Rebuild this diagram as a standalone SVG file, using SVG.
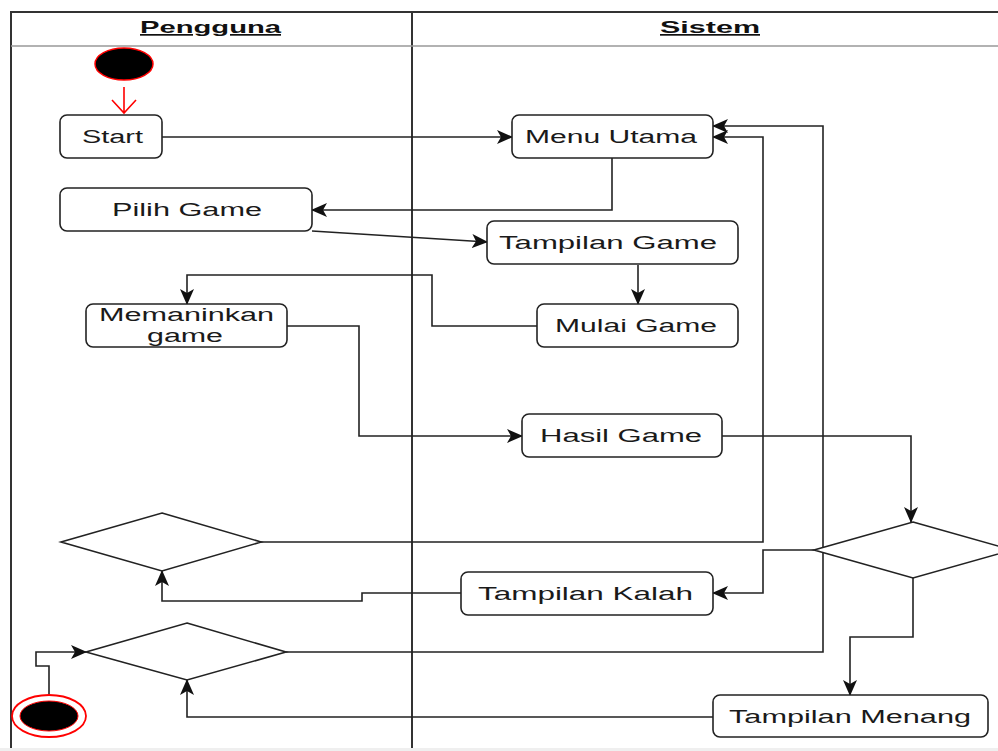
<svg xmlns="http://www.w3.org/2000/svg" width="998" height="751" viewBox="0 0 998 751">
  <defs>
    <marker id="arr" viewBox="0 0 16 14" refX="15" refY="7" markerWidth="16" markerHeight="14" markerUnits="userSpaceOnUse" orient="auto">
      <path d="M0,0 L16,7 L0,14 L4,7 z" fill="#111"/>
    </marker>
  </defs>
  <style>
    .lane { fill: none; stroke: #333; stroke-width: 2; }
    .hdr { fill: none; stroke: #999; stroke-width: 1.5; }
    .box { fill: #fff; stroke: #222; stroke-width: 1.6; }
    .dia { fill: #fff; stroke: #222; stroke-width: 1.6; }
    .lbl { font-family: "Liberation Sans", Arial, sans-serif; font-size: 18px; fill: #1a1a1a; }
    .ttl { font-family: "Liberation Sans", Arial, sans-serif; font-size: 17px; font-weight: bold; fill: #111; text-decoration: underline; }
    .conn path { fill: none; stroke: #222; stroke-width: 1.6; marker-end: url(#arr); }
  </style>
  <rect x="0" y="0" width="998" height="751" fill="#fff"/>
  <rect x="0" y="748" width="998" height="3" fill="#efefef"/>

  <!-- swimlanes -->
  <g id="lanes">
    <path class="lane" d="M11,748 V12 H998"/>
    <path class="lane" d="M412,12 V748"/>
    <path class="hdr" d="M11,46 H998"/>
    <text class="ttl" x="140" y="33" textLength="141" lengthAdjust="spacingAndGlyphs">Pengguna</text>
    <text class="ttl" x="660" y="33" textLength="100" lengthAdjust="spacingAndGlyphs">Sistem</text>
  </g>

  <!-- connectors -->
  <g id="connectors" class="conn">
    <path d="M162,137 H512"/>
    <path d="M612,158 V210 H312"/>
    <path d="M312,231 L487,242"/>
    <path d="M638,265 V304"/>
    <path d="M537,326 H432 V275 H187 V304"/>
    <path d="M287,326 H359 V436 H522"/>
    <path d="M722,436 H911 V522"/>
    <path d="M814,550 H763 V593 H713"/>
    <path d="M913,578 V637 H850 V695"/>
    <path d="M461,593 H362 V601 H162 V571"/>
    <path d="M713,717 H187 V680"/>
    <path d="M261,542 H763 V137 H713"/>
    <path d="M286,652 H823 V126 H713"/>
    <path d="M49,694 V666 H36 V652 H86"/>
  </g>

  <!-- initial node -->
  <g id="initial">
    <ellipse cx="124" cy="64" rx="29" ry="16" fill="#000" stroke="#f00" stroke-width="1.5"/>
    <path d="M124,87 V113 M112,100 L124,113 L136,100" fill="none" stroke="#f00" stroke-width="1.6"/>
  </g>

  <g id="start">
    <rect class="box" x="60" y="115" width="102" height="43" rx="7"/>
    <text class="lbl" x="82" y="143" textLength="61" lengthAdjust="spacingAndGlyphs">Start</text>
  </g>

  <g id="menu-utama">
    <rect class="box" x="512" y="115" width="201" height="43" rx="7"/>
    <text class="lbl" x="525" y="143" textLength="172" lengthAdjust="spacingAndGlyphs">Menu Utama</text>
  </g>

  <g id="pilih-game">
    <rect class="box" x="60" y="188" width="252" height="43" rx="7"/>
    <text class="lbl" x="112" y="216" textLength="150" lengthAdjust="spacingAndGlyphs">Pilih Game</text>
  </g>

  <g id="tampilan-game">
    <rect class="box" x="487" y="221" width="251" height="43" rx="7"/>
    <text class="lbl" x="499" y="249" textLength="218" lengthAdjust="spacingAndGlyphs">Tampilan Game</text>
  </g>

  <g id="mulai-game">
    <rect class="box" x="537" y="304" width="201" height="43" rx="7"/>
    <text class="lbl" x="555" y="332" textLength="162" lengthAdjust="spacingAndGlyphs">Mulai Game</text>
  </g>

  <g id="memaninkan-game">
    <rect class="box" x="86" y="304" width="201" height="43" rx="7"/>
    <text class="lbl" x="99" y="321" textLength="175" lengthAdjust="spacingAndGlyphs">Memaninkan</text>
    <text class="lbl" x="147" y="342" textLength="76" lengthAdjust="spacingAndGlyphs">game</text>
  </g>

  <g id="hasil-game">
    <rect class="box" x="522" y="414" width="200" height="43" rx="7"/>
    <text class="lbl" x="540" y="442" textLength="162" lengthAdjust="spacingAndGlyphs">Hasil Game</text>
  </g>

  <g id="keputusan-hasil">
    <polygon class="dia" points="913,522 1012,550 913,578 814,550"/>
  </g>

  <g id="tampilan-kalah">
    <rect class="box" x="461" y="572" width="252" height="43" rx="7"/>
    <text class="lbl" x="478" y="600" textLength="215" lengthAdjust="spacingAndGlyphs">Tampilan Kalah</text>
  </g>

  <g id="tampilan-menang">
    <rect class="box" x="713" y="695" width="275" height="42" rx="7"/>
    <text class="lbl" x="729" y="723" textLength="242" lengthAdjust="spacingAndGlyphs">Tampilan Menang</text>
  </g>

  <g id="keputusan-kalah">
    <polygon class="dia" points="162,513 261,542 162,571 61,542"/>
  </g>

  <g id="keputusan-menang">
    <polygon class="dia" points="187,623 286,652 187,680 86,652"/>
  </g>

  <!-- final node -->
  <g id="final">
    <ellipse cx="49" cy="716" rx="37" ry="21" fill="#fff" stroke="#f00" stroke-width="1.8"/>
    <ellipse cx="49" cy="716" rx="29" ry="15" fill="#000" stroke="#f00" stroke-width="1"/>
  </g>
</svg>
